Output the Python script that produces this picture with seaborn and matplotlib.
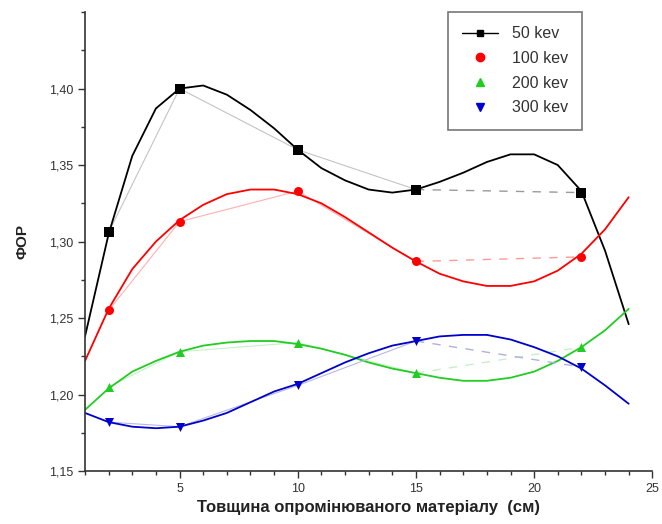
import numpy as np
import pandas as pd
import matplotlib
matplotlib.use("Agg")
import matplotlib.pyplot as plt
from matplotlib.ticker import MultipleLocator, FuncFormatter
from matplotlib.lines import Line2D
import seaborn as sns

# measured points (thickness, cm)
thickness = [2, 5, 10, 15, 22]
for_50 = [1.306, 1.400, 1.360, 1.334, 1.332]
for_100 = [1.255, 1.313, 1.333, 1.287, 1.290]
for_200 = [1.205, 1.228, 1.234, 1.214, 1.231]
for_300 = [1.182, 1.179, 1.206, 1.235, 1.218]

# fitted curves
curve_x = list(range(1, 25))
curve_50 = [1.238, 1.305, 1.356, 1.387, 1.400, 1.402, 1.396, 1.386, 1.374, 1.360,
            1.348, 1.340, 1.334, 1.332, 1.334, 1.339, 1.345, 1.352, 1.357, 1.357,
            1.350, 1.333, 1.294, 1.246]
curve_100 = [1.222, 1.256, 1.282, 1.300, 1.314, 1.324, 1.331, 1.334, 1.334, 1.331,
             1.325, 1.316, 1.306, 1.296, 1.287, 1.279, 1.274, 1.271, 1.271, 1.274,
             1.281, 1.292, 1.308, 1.329]
curve_200 = [1.190, 1.204, 1.215, 1.222, 1.228, 1.232, 1.234, 1.235, 1.235, 1.233,
             1.230, 1.226, 1.221, 1.217, 1.214, 1.211, 1.209, 1.209, 1.211, 1.215,
             1.222, 1.231, 1.242, 1.256]
curve_300 = [1.188, 1.182, 1.179, 1.178, 1.179, 1.183, 1.188, 1.195, 1.202, 1.207,
             1.214, 1.221, 1.227, 1.232, 1.235, 1.238, 1.239, 1.239, 1.236, 1.231,
             1.225, 1.217, 1.206, 1.194]

labels = ["50 kev", "100 kev", "200 kev", "300 kev"]
colors = ["#000000", "#ff0000", "#22cc22", "#0000cc"]
light = ["#c4c4c4", "#ffb0b0", "#c8f0c8", "#b8b8e4"]
dash_col = ["#9a9a9a", "#ff9a9a", "#c8f0c8", "#b0b0dc"]
markers = ["s", "o", "^", "v"]
points = [for_50, for_100, for_200, for_300]
curves = [curve_50, curve_100, curve_200, curve_300]

sns.set_theme(style="ticks")
plt.rcParams["font.family"] = ["Liberation Sans", "DejaVu Sans"]

fig = plt.figure(figsize=(6.62, 5.24), dpi=100)
ax = fig.add_axes([0.1284, 0.101, 0.857, 0.876])

for pts, crv, col, lcol, dcol, mk in zip(points, curves, colors, light, dash_col, markers):
    # thin line joining the measurements
    sns.lineplot(x=thickness[:4], y=pts[:4], ax=ax, color=lcol, lw=0.8,
                 estimator=None, sort=False)
    sns.lineplot(x=thickness[3:], y=pts[3:], ax=ax, color=dcol, lw=1.0,
                 estimator=None, sort=False, linestyle=(0, (6, 6)))
    # fitted curve
    sns.lineplot(x=curve_x, y=crv, ax=ax, color=col, lw=1.3,
                 estimator=None, sort=False)
    sns.scatterplot(x=thickness, y=pts, ax=ax, color=col, marker=mk, s=42,
                    edgecolor=col, linewidth=0, zorder=5)

ax.set_xlim(1, 25)
ax.set_ylim(1.15, 1.45)
ax.xaxis.set_major_locator(MultipleLocator(5))
ax.xaxis.set_minor_locator(MultipleLocator(1))
ax.yaxis.set_major_locator(MultipleLocator(0.05))
ax.yaxis.set_minor_locator(MultipleLocator(0.025))
ax.yaxis.set_major_formatter(FuncFormatter(lambda v, p: f"{v:.2f}".replace(".", ",")))
ax.xaxis.set_major_formatter(FuncFormatter(lambda v, p: f"{v:.0f}"))
ax.set_yticks([1.15, 1.20, 1.25, 1.30, 1.35, 1.40])
ax.tick_params(which="major", direction="out", length=5, width=1, labelsize=9,
               labelcolor="#333333", color="#333333")
ax.tick_params(which="minor", direction="out", length=3, width=1, color="#333333")
sns.despine(ax=ax)
for s in ["left", "bottom"]:
    ax.spines[s].set_color("#333333")
    ax.spines[s].set_linewidth(1.2)

ax.set_xlabel("Товщина опромінюваного матеріалу  (см)", fontsize=12,
              fontweight="bold", color="#222222", labelpad=4)
ax.set_ylabel("ФОР", fontsize=11, fontweight="bold", color="#222222", labelpad=14)

handles = [Line2D([], [], color=colors[0], lw=1, marker="s", markersize=5)]
for col, mk in zip(colors[1:], markers[1:]):
    handles.append(Line2D([], [], color=col, lw=0, marker=mk, markersize=6))
leg = ax.legend(handles, labels, loc="upper left", bbox_to_anchor=(0.64, 1.0),
                fontsize=11.5, frameon=True, fancybox=False, edgecolor="#555555",
                handlelength=2.2, labelspacing=0.6, borderpad=0.9,
                handletextpad=0.9, borderaxespad=0)
leg.get_frame().set_linewidth(1.2)
for t in leg.get_texts():
    t.set_color("#333333")

fig.savefig("out.png", dpi=100)
